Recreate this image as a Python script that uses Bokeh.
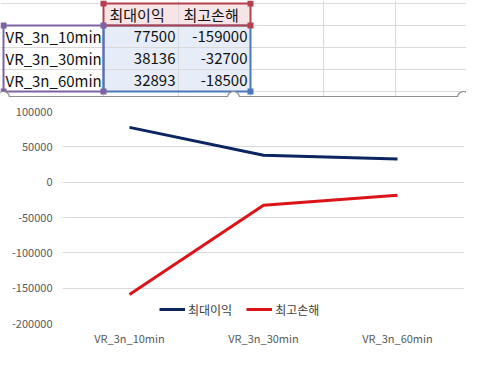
from bokeh.plotting import figure
from bokeh.models import (Range1d, FactorRange, FixedTicker, NumeralTickFormatter,
                          ColumnDataSource)
from bokeh.core.properties import value
from bokeh.embed import file_html
from bokeh.resources import INLINE

# ---------------- data ----------------
categories = ["VR_3n_10min", "VR_3n_30min", "VR_3n_60min"]
series_names = ["최대이익", "최고손해"]
max_profit = [77500, 38136, 32893]
max_loss = [-159000, -32700, -18500]
y_ticks = [-200000, -150000, -100000, -50000, 0, 50000, 100000]

# ---------------- style ----------------
NAVY = "#0c2560"
RED = "#dc1418"
FONT = "Noto Sans CJK KR"
GRID = "#d9d9d9"
FRAME = "#8c8c8c"

W = 466
TH = 97
CH = 273

# ---------------- spreadsheet strip ----------------
tf = figure(width=W, height=TH, x_range=Range1d(0, W), y_range=Range1d(TH, 0),
            output_backend="svg", toolbar_location=None, min_border=0,
            x_axis_location=None, y_axis_location=None, outline_line_color=None)
tf.grid.visible = False

col_edges = [0, 103, 178, 250, 323, 395, 467]
row_h = 22
row_top = 3
row_edges = [row_top + i * row_h for i in range(5)]

# selection fills
tf.quad(left=col_edges[1], right=col_edges[3], top=row_edges[0], bottom=row_edges[1],
        fill_color="#f6e4e6", line_color=None)
tf.quad(left=col_edges[1], right=col_edges[3], top=row_edges[1], bottom=row_edges[4],
        fill_color="#e6edf8", line_color=None)

# gridlines
tf.multi_line(xs=[[x, x] for x in col_edges[1:]], ys=[[0, TH]] * (len(col_edges) - 1),
              line_color=GRID, line_width=1)
tf.multi_line(xs=[[0, W]] * len(row_edges), ys=[[y, y] for y in row_edges],
              line_color=GRID, line_width=1)

# range borders
tf.quad(left=col_edges[0] + 3, right=col_edges[1], top=row_edges[1], bottom=row_edges[4],
        fill_color=None, line_color="#7f62a3", line_width=2)
tf.quad(left=col_edges[1], right=col_edges[3], top=row_edges[1], bottom=row_edges[4],
        fill_color=None, line_color="#4a78b8", line_width=2)
tf.quad(left=col_edges[1], right=col_edges[3], top=row_edges[0], bottom=row_edges[1],
        fill_color=None, line_color="#b5404e", line_width=2)
# corner handles
tf.scatter([col_edges[1], col_edges[3], col_edges[3]], [row_edges[0], row_edges[0], row_edges[1]],
           marker="square", size=6, fill_color="#b5404e", line_color=None)
tf.scatter([col_edges[0] + 3, col_edges[1], col_edges[0] + 3, col_edges[1]],
           [row_edges[1], row_edges[1], row_edges[4], row_edges[4]],
           marker="square", size=6, fill_color="#7f62a3", line_color=None)
tf.scatter([col_edges[3]], [row_edges[4]], marker="square", size=6,
           fill_color="#4a78b8", line_color=None)

# cell texts
hdr = ColumnDataSource(dict(x=[col_edges[1] + 6, col_edges[2] + 5],
                            y=[row_top + row_h / 2] * 2, t=series_names))
tf.text("x", "y", text="t", source=hdr, text_font=value(FONT), text_font_size="15px",
        text_align="left", text_baseline="middle", text_color="#111111")
rows_y = [row_top + row_h * (i + 1.5) for i in range(len(categories))]
cat_src = ColumnDataSource(dict(x=[5] * len(categories), y=rows_y, t=categories))
tf.text("x", "y", text="t", source=cat_src, text_font=value(FONT), text_font_size="15px",
        text_align="left", text_baseline="middle", text_color="#111111")
num_src = ColumnDataSource(dict(
    x=[col_edges[2] - 3] * len(categories) + [col_edges[3] - 3] * len(categories),
    y=rows_y + rows_y,
    t=[str(v) for v in max_profit] + [str(v) for v in max_loss]))
tf.text("x", "y", text="t", source=num_src, text_font=value(FONT), text_font_size="15px",
        text_align="right", text_baseline="middle", text_color="#111111")

# chart top border and upper halves of its handles
tf.line([0, W], [TH - 0.75, TH - 0.75], line_color=FRAME, line_width=1.5)
tf.scatter([3, W / 2, W - 3], [TH] * 3, marker="circle", size=12,
           fill_color="white", line_color=FRAME, line_width=1.2)

# ---------------- chart ----------------
p = figure(width=W, height=CH, x_range=FactorRange(*categories),
           y_range=Range1d(y_ticks[0], y_ticks[-1]),
           output_backend="svg", toolbar_location=None,
           min_border_left=62, min_border_right=2, min_border_top=14, min_border_bottom=47,
           outline_line_color=None)

src = ColumnDataSource(dict(cat=categories, profit=max_profit, loss=max_loss))
p.line("cat", "profit", source=src, line_color=NAVY, line_width=3, legend_label=series_names[0])
p.line("cat", "loss", source=src, line_color=RED, line_width=3, legend_label=series_names[1])

p.xgrid.visible = False
p.ygrid.grid_line_color = GRID
p.ygrid.grid_line_width = 1
p.yaxis.ticker = FixedTicker(ticks=y_ticks)
p.yaxis.formatter = NumeralTickFormatter(format="0")
for ax in (p.xaxis, p.yaxis):
    ax.axis_line_color = None
    ax.major_tick_line_color = None
    ax.minor_tick_line_color = None
    ax.major_tick_out = 0
    ax.major_tick_in = 0
    ax.major_label_text_font = FONT
    ax.major_label_text_font_size = "11px"
    ax.major_label_text_color = "#595959"
p.yaxis.major_label_standoff = 10
p.xaxis.major_label_standoff = 6

lg = p.legend[0]
lg.orientation = "horizontal"
lg.location = (97, 4)
lg.border_line_color = None
lg.background_fill_alpha = 0
lg.padding = 0
lg.margin = 0
lg.spacing = 14
lg.glyph_width = 26
lg.label_standoff = 3
lg.label_text_font = FONT
lg.label_text_font_size = "12px"
lg.label_text_color = "#404040"

open("out.html", "w").write(file_html([tf, p], INLINE))
